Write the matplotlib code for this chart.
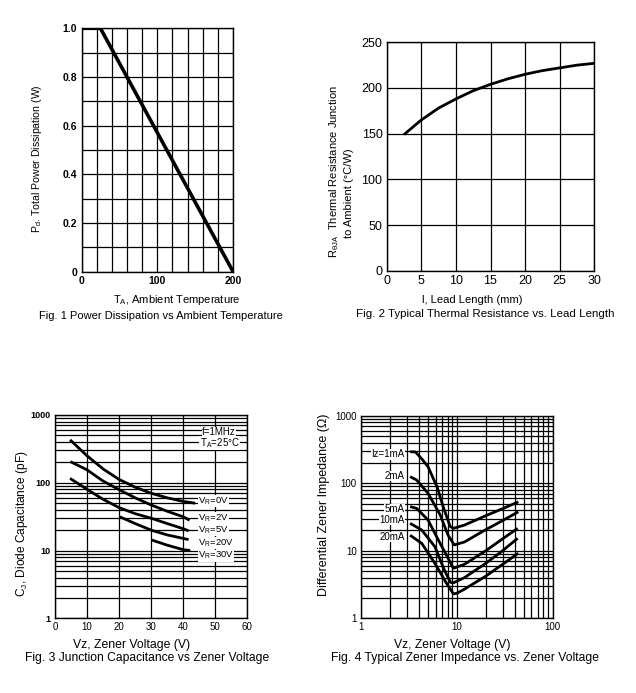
import matplotlib
matplotlib.use("Agg")
import matplotlib.pyplot as plt
from matplotlib.ticker import FixedLocator, NullFormatter, LogLocator

plt.rcParams["font.family"] = ["Liberation Sans", "DejaVu Sans"]
plt.rcParams["mathtext.fontset"] = "custom"
plt.rcParams["mathtext.rm"] = "Liberation Sans"

# ------------------------------------------
# Data
# ------------------------------------------

# Fig. 1 power derating
temp_c = [0, 25, 200]
power_w = [1.0, 1.0, 0.0]

# Fig. 2 thermal resistance vs lead length
lead_mm = [2.5, 5, 7.5, 10, 12.5, 15, 17.5, 20, 22.5, 25, 27.5, 30]
r_thja = [149, 165, 178, 188, 197, 204, 210, 215, 219, 222, 225, 227]

# Fig. 3 junction capacitance
vz_0v = [4.7, 10, 15, 20, 25, 30, 35, 40, 43.7]
cj_0v = [430, 250, 160, 112, 86, 70, 60, 53, 50]
vz_2v = [4.8, 10, 15, 20, 25, 30, 35, 40, 42]
cj_2v = [205, 155, 106, 79, 60, 47, 38, 31.5, 28]
vz_5v = [4.7, 10, 15, 20, 25, 30, 35, 40, 41.7]
cj_5v = [116, 80, 57, 43, 35, 30, 25, 21, 19.5]
vz_20v = [20.2, 25, 30, 35, 40, 41.7]
cj_20v = [31.5, 25, 20, 17, 15.1, 14.5]
vz_30v = [30.2, 35, 40, 42.2]
cj_30v = [14.3, 12, 10.3, 10]
cap_labels = ["V$_\\mathregular{R}$=0V", "V$_\\mathregular{R}$=2V", "V$_\\mathregular{R}$=5V",
              "V$_\\mathregular{R}$=20V", "V$_\\mathregular{R}$=30V"]
cap_label_y = [54, 30, 19.8, 13, 8.4]

# Fig. 4 zener impedance
vz_1ma = [3.25, 3.7, 4.3, 5.0, 6.2, 7.2, 8.5, 9.2, 12, 20, 30, 43.8]
zz_1ma = [293, 290, 230, 176, 89, 45, 23, 21.5, 24, 33, 42, 53]
vz_2ma = [3.25, 3.8, 5.0, 6.7, 8.1, 9.4, 12, 20, 30, 43.8]
zz_2ma = [125, 112, 71, 34, 17, 12.2, 13.5, 20.5, 28, 37.8]
vz_5ma = [3.25, 3.8, 5.0, 6.4, 7.8, 9.2, 12, 20, 30, 43.1]
zz_5ma = [45, 42.5, 28.6, 14.5, 8.6, 5.5, 6.3, 10, 15, 21.5]
vz_10ma = [3.25, 4.3, 5.9, 7.4, 8.6, 9.2, 12, 20, 30, 43.1]
zz_10ma = [25.5, 20.3, 11.5, 5.2, 3.4, 3.35, 4.0, 6.5, 10, 15.3]
vz_20ma = [3.25, 4.3, 5.9, 7.8, 9.2, 10, 12, 20, 30, 43.8]
zz_20ma = [17, 12.9, 6.5, 3.3, 2.3, 2.35, 2.7, 4.2, 6.3, 9.2]
imp_labels = ["Iz=1mA", "2mA", "5mA", "10mA", "20mA"]
imp_label_y = [268, 128, 41, 29, 16]

W, H = 636, 693


def box(left, top, right, bottom):
    return [left / W, 1 - bottom / H, (right - left) / W, (bottom - top) / H]


def ftext(x, y, s, **kw):
    fig.text(x / W, 1 - y / H, s, **kw)


def style(ax):
    ax.grid(True, which="both", color="black", linewidth=0.9)
    ax.tick_params(which="both", length=0, pad=3, colors="black")
    for sp in ax.spines.values():
        sp.set_linewidth(1.0)
        sp.set_color("black")
    ax.set_axisbelow(True)


fig = plt.figure(figsize=(6.36, 6.93), dpi=100)
curve = dict(color="black", linewidth=2.0, solid_capstyle="butt", solid_joinstyle="round")

# ------------------------------------------
# Fig. 1
# ------------------------------------------

ax1 = fig.add_axes(box(81.5, 28.3, 233, 271.5))
ax1.plot(temp_c, power_w, color="black", linewidth=2.6, solid_capstyle="butt")
ax1.set_xlim(0, 200)
ax1.set_ylim(0, 1.0)
ax1.xaxis.set_major_locator(FixedLocator([0, 100, 200]))
ax1.xaxis.set_minor_locator(FixedLocator(range(0, 201, 20)))
ax1.yaxis.set_major_locator(FixedLocator([0, 0.2, 0.4, 0.6, 0.8, 1.0]))
ax1.yaxis.set_minor_locator(FixedLocator([i / 10 for i in range(11)]))
ax1.set_yticklabels(["0", "0.2", "0.4", "0.6", "0.8", "1.0"])
style(ax1)
for lab in ax1.get_xticklabels() + ax1.get_yticklabels():
    lab.set_fontweight("bold")
    lab.set_fontsize(7.5)
ftext(177, 300, "T$_\\mathregular{A}$, Ambient Temperature", ha="center", va="center", fontsize=8)
ftext(161, 316, "Fig. 1 Power Dissipation vs Ambient Temperature", ha="center", va="center", fontsize=8)
ftext(37, 159, "P$_\\mathregular{d}$. Total Power Dissipation (W)", rotation=90,
      ha="center", va="center", fontsize=7.6)

# ------------------------------------------
# Fig. 2
# ------------------------------------------

ax2 = fig.add_axes(box(386.7, 42.3, 594.3, 270.7))
ax2.plot(lead_mm, r_thja, **curve)
ax2.set_xlim(0, 30)
ax2.set_ylim(0, 250)
ax2.set_xticks(range(0, 31, 5))
ax2.set_yticks(range(0, 251, 50))
style(ax2)
ax2.tick_params(labelsize=9)
ftext(472, 300, "l, Lead Length (mm)", ha="center", va="center", fontsize=8.1)
ftext(485, 314, "Fig. 2 Typical Thermal Resistance vs. Lead Length", ha="center", va="center", fontsize=8.25)
ftext(334, 172, "R$_\\mathregular{\\theta JA}$  Thermal Resistance Junction", rotation=90,
      ha="center", va="center", fontsize=8)
ftext(349, 193, "to Ambient (°C/W)", rotation=90, ha="center", va="center", fontsize=8)

# ------------------------------------------
# Fig. 3
# ------------------------------------------

ax3 = fig.add_axes(box(55, 415, 247.3, 618.3))
ax3.set_yscale("log")
for xs, ys in [(vz_0v, cj_0v), (vz_2v, cj_2v), (vz_5v, cj_5v), (vz_20v, cj_20v), (vz_30v, cj_30v)]:
    ax3.plot(xs, ys, **curve)
ax3.set_xlim(0, 60)
ax3.set_ylim(1, 1000)
ax3.set_xticks(range(0, 61, 10))
ax3.yaxis.set_major_locator(FixedLocator([1, 10, 100, 1000]))
ax3.yaxis.set_minor_locator(LogLocator(subs=range(2, 10)))
ax3.yaxis.set_minor_formatter(NullFormatter())
ax3.set_yticklabels(["1", "10", "100", "1000"])
style(ax3)
ax3.xaxis.grid(False, which="minor")
for lab in ax3.get_yticklabels():
    lab.set_fontweight("bold")
    lab.set_fontsize(6.5)
ax3.tick_params(axis="x", labelsize=7)
bb = dict(facecolor="white", edgecolor="none", pad=0.2)
for lab, yv in zip(cap_labels, cap_label_y):
    ax3.text(44.6, yv, lab, ha="left", va="center", fontsize=6.8, bbox=bb)
ax3.text(56.4, 560, "f=1MHz", ha="right", va="center", fontsize=7, bbox=bb)
ax3.text(57.6, 390, "T$_\\mathregular{A}$=25°C", ha="right", va="center", fontsize=7, bbox=bb)
ftext(132, 645, "Vz, Zener Voltage (V)", ha="center", va="center", fontsize=8.8)
ftext(147, 658, "Fig. 3 Junction Capacitance vs Zener Voltage", ha="center", va="center", fontsize=8.7)
ftext(22, 524, "C$_\\mathregular{J}$, Diode Capacitance (pF)", rotation=90,
      ha="center", va="center", fontsize=8.6)

# ------------------------------------------
# Fig. 4
# ------------------------------------------

ax4 = fig.add_axes(box(361, 415.7, 552.7, 618.3))
ax4.set_xscale("log")
ax4.set_yscale("log")
for xs, ys in [(vz_1ma, zz_1ma), (vz_2ma, zz_2ma), (vz_5ma, zz_5ma), (vz_10ma, zz_10ma), (vz_20ma, zz_20ma)]:
    ax4.plot(xs, ys, **curve)
ax4.set_xlim(1, 100)
ax4.set_ylim(1, 1000)
ax4.xaxis.set_major_locator(FixedLocator([1, 10, 100]))
ax4.xaxis.set_minor_locator(LogLocator(subs=range(2, 10)))
ax4.xaxis.set_minor_formatter(NullFormatter())
ax4.yaxis.set_major_locator(FixedLocator([1, 10, 100, 1000]))
ax4.yaxis.set_minor_locator(LogLocator(subs=range(2, 10)))
ax4.yaxis.set_minor_formatter(NullFormatter())
ax4.set_xticklabels(["1", "10", "100"])
ax4.set_yticklabels(["1", "10", "100", "1000"])
style(ax4)
ax4.tick_params(labelsize=7)
for lab, yv in zip(imp_labels, imp_label_y):
    ax4.text(2.85, yv, lab, ha="right", va="center", fontsize=7, bbox=bb)
ftext(452, 645, "Vz, Zener Voltage (V)", ha="center", va="center", fontsize=8.7)
ftext(465, 658, "Fig. 4 Typical Zener Impedance vs. Zener Voltage", ha="center", va="center", fontsize=8.75)
ftext(324, 505, "Differential Zener Impedance (Ω)", rotation=90,
      ha="center", va="center", fontsize=9)

fig.savefig("out.png", dpi=100)
